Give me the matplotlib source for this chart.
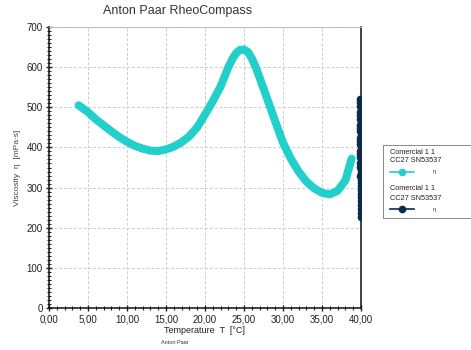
import numpy as np
import matplotlib
matplotlib.use('Agg')
import matplotlib.pyplot as plt
from matplotlib.lines import Line2D
from matplotlib.patches import Rectangle
from matplotlib.ticker import MultipleLocator, FuncFormatter

plt.rcParams['font.family'] = ['Liberation Sans', 'DejaVu Sans']

# viscosity vs temperature, heating ramp
temp_1 = [3.8, 5, 6, 7, 8, 9, 10, 11, 12, 13, 14, 15, 16, 17, 18, 19, 20, 21, 22,
          23, 23.5, 24, 24.5, 25, 25.5, 26, 26.5, 27, 28, 29, 30, 31, 32, 33, 34,
          35, 36, 37, 38, 38.8]
visc_1 = [505, 488, 470, 455, 440, 426, 414, 404, 397, 392, 391, 395, 402, 413, 428,
          450, 482, 515, 552, 600, 620, 635, 643, 644, 638, 622, 600, 574, 520, 465,
          412, 372, 340, 315, 298, 287, 283, 292, 318, 372]

# holding at 40 °C
temp_2 = [39.9, 39.85, 39.92, 39.95, 39.88, 39.85, 39.9, 39.95, 39.9, 39.86, 39.9,
          39.95, 39.9, 39.87, 39.92, 39.95, 39.9, 39.86, 39.9, 39.95, 39.92, 39.88,
          39.94, 39.96, 39.93, 39.95, 39.96, 39.97, 39.96, 39.97, 39.97, 39.98,
          39.97, 39.98, 39.98, 39.98]
visc_2 = [520, 512, 504, 496, 488, 480, 472, 464, 456, 448, 440, 432, 424, 416, 408,
          400, 392, 384, 376, 368, 360, 352, 344, 336, 328, 320, 312, 303, 294, 285,
          276, 266, 256, 246, 236, 226]

cyan = '#22cfcb'
navy = '#0b2a4c'

W, H = 471, 350
fig = plt.figure(figsize=(4.71, 3.5), dpi=100)
ax = fig.add_axes([49/W, 42/H, 312/W, 281/H])

ax.plot(temp_1, visc_1, color=cyan, lw=5.8, solid_capstyle='round',
        solid_joinstyle='round', zorder=3)
ax.plot(temp_2, visc_2, color=navy, lw=0, marker='o', ms=4.5, zorder=4)

ax.set_xlim(0, 40)
ax.set_ylim(0, 700)
ax.xaxis.set_major_locator(MultipleLocator(5))
ax.xaxis.set_minor_locator(MultipleLocator(1))
ax.yaxis.set_major_locator(MultipleLocator(100))
ax.yaxis.set_minor_locator(MultipleLocator(10))
ax.xaxis.set_major_formatter(FuncFormatter(lambda v, p: f'{v:.2f}'.replace('.', ',')))
ax.tick_params(which='both', direction='inout', labelsize=7, colors='#222222', pad=2)
ax.tick_params(which='major', length=5, width=1)
ax.tick_params(which='minor', length=3, width=0.8)
ax.grid(True, which='major', color='#cccccc', ls=(0, (3, 2)), lw=0.7)

ax.spines['top'].set_color('#bbbbbb')
ax.spines['top'].set_linewidth(0.7)
for s in ('left', 'bottom', 'right'):
    ax.spines[s].set_color('#111111')
    ax.spines[s].set_linewidth(1.1)

fig.text(178/W, 1 - 11/H, 'Anton Paar RheoCompass', fontsize=9, color='#333333',
         ha='center', va='center')
ax.set_xlabel('Temperature  T  [°C]', fontsize=6.5, color='#222222', labelpad=1)
ax.set_ylabel('Viscosity  η  [mPa·s]', fontsize=6, color='#444444', labelpad=4)
fig.text(175/W, 1 - 343/H, 'Anton Paar', fontsize=4, color='#333333',
         ha='center', va='center')

# legend box
fig.add_artist(Rectangle((383/W, 1 - 218/H), 90/W, 73/H, transform=fig.transFigure,
                         fill=False, ec='#888888', lw=0.7))
for y0, col in ((152, cyan), (189, navy)):
    fig.text(390/W, 1 - y0/H, 'Comercial 1 1', fontsize=5.3, color='#222222', va='center')
    fig.text(390/W, 1 - (y0 + 9)/H, 'CC27 SN53537', fontsize=5.3, color='#222222', va='center')
    yh = 1 - (y0 + 20)/H
    fig.add_artist(Line2D([390/W, 414/W], [yh, yh], transform=fig.transFigure,
                          color=col, lw=1.2, marker=None))
    fig.add_artist(Line2D([402/W], [yh], transform=fig.transFigure, color=col,
                          marker='o', ms=4.5, lw=0))
    fig.text(433/W, yh, 'η', fontsize=4.5, color='#444444', va='center')

fig.savefig('out.png', dpi=100)
